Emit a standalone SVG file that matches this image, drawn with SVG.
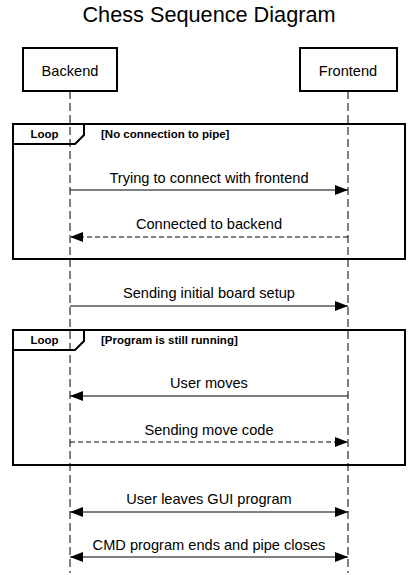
<svg xmlns="http://www.w3.org/2000/svg" width="417" height="575" viewBox="0 0 417 575">
<style>
text{font-family:"Liberation Sans",Arial,sans-serif;fill:#000}
.lbl{font-size:14.6px;text-anchor:middle}
.small{font-size:11.5px;font-weight:bold}
.box{fill:#fff;stroke:#000;stroke-width:2}
.life{stroke:#000;stroke-width:1;stroke-dasharray:8 4;fill:none}
.frame{fill:none;stroke:#000;stroke-width:2}
.msg{stroke:#000;stroke-width:1;fill:none}
.dash{stroke-dasharray:5 3}
</style>
<defs>
<marker id="ah" markerWidth="13" markerHeight="10" refX="13" refY="5" orient="auto" markerUnits="userSpaceOnUse">
<path d="M0,0 L13,5 L0,10 Z" fill="#000"/>
</marker>
<marker id="as" markerWidth="13" markerHeight="10" refX="0" refY="5" orient="auto" markerUnits="userSpaceOnUse">
<path d="M13,0 L0,5 L13,10 Z" fill="#000"/>
</marker>
</defs>
<rect width="417" height="575" fill="#fff"/>
<text x="209" y="22" font-size="21.7" text-anchor="middle">Chess Sequence Diagram</text>
<g id="lifelines">
<line class="life" x1="70" y1="91" x2="70" y2="573"/>
<line class="life" x1="348" y1="91" x2="348" y2="573"/>
</g>
<g id="backend"><rect class="box" x="23" y="48" width="94" height="43"/><text class="lbl" x="70" y="76">Backend</text></g>
<g id="frontend"><rect class="box" x="300" y="48" width="97" height="43"/><text class="lbl" x="348" y="76">Frontend</text></g>
<g id="loop1">
<rect class="frame" x="13" y="124" width="392" height="135"/>
<path class="frame" d="M13,144 L75,144 L84,135 L84,124"/>
<text class="small" x="44.5" y="138" text-anchor="middle">Loop</text>
<text class="small" x="101" y="138">[No connection to pipe]</text>
</g>
<g id="loop2">
<rect class="frame" x="13" y="330" width="392" height="135"/>
<path class="frame" d="M13,350 L75,350 L84,341 L84,330"/>
<text class="small" x="44.5" y="344" text-anchor="middle">Loop</text>
<text class="small" x="101" y="344">[Program is still running]</text>
</g>
<g id="connectors">
<line class="msg" x1="70" y1="190" x2="348" y2="190" marker-end="url(#ah)"/>
<text class="lbl" x="209" y="183">Trying to connect with frontend</text>
<line class="msg dash" x1="348" y1="237" x2="70" y2="237" marker-end="url(#ah)"/>
<text class="lbl" x="209" y="229">Connected to backend</text>
<line class="msg" x1="70" y1="306" x2="348" y2="306" marker-end="url(#ah)"/>
<text class="lbl" x="209" y="298">Sending initial board setup</text>
<line class="msg" x1="348" y1="396" x2="70" y2="396" marker-end="url(#ah)"/>
<text class="lbl" x="209" y="388">User moves</text>
<line class="msg dash" x1="70" y1="442" x2="348" y2="442" marker-end="url(#ah)"/>
<text class="lbl" x="209" y="435">Sending move code</text>
<line class="msg" x1="70" y1="512" x2="348" y2="512" marker-start="url(#as)" marker-end="url(#ah)"/>
<text class="lbl" x="209" y="504">User leaves GUI program</text>
<line class="msg" x1="70" y1="557" x2="348" y2="557" marker-start="url(#as)" marker-end="url(#ah)"/>
<text class="lbl" x="209" y="550">CMD program ends and pipe closes</text>
</g>
</svg>
